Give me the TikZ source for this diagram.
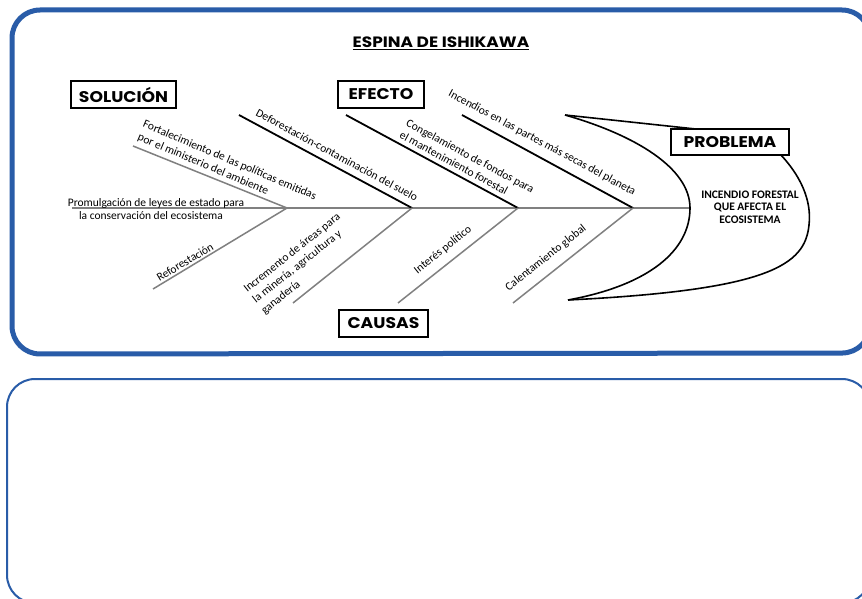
\documentclass[tikz,border=0pt]{standalone}
\usepackage{fontspec}
\setmainfont{Carlito}
\newfontfamily\popfont{Poppins}
\definecolor{frameblue}{RGB}{41,92,168}
\definecolor{bonegray}{RGB}{128,128,128}
\newcommand{\mybx}[1]{{\popfont\bfseries\fontsize{15.5}{17}\selectfont\scalebox{1.11}[1]{#1}}}
\begin{document}
\begin{tikzpicture}[x=1pt,y=-1pt,
  topframe/.style={draw=frameblue, line width=5pt, rounded corners=28pt},
  lowframe/.style={draw=frameblue, line width=2pt, rounded corners=28pt},
  hbox/.style={draw=black, line width=1.6pt, fill=white, inner sep=0pt,
    minimum height=27pt},
  blackbone/.style={draw=black, line width=1.8pt},
  graybone/.style={draw=bonegray, line width=1.5pt},
  headline/.style={draw=black, line width=1.6pt},
  lbl/.style={inner sep=0pt, align=left, font=\fontsize{11.5}{14}\selectfont},
  headtext/.style={inner sep=0pt, align=center, font=\bfseries\fontsize{11.5}{12.5}\selectfont},
  titletext/.style={inner sep=0pt, font=\popfont\bfseries\fontsize{15}{17}\selectfont}
]
\clip (0,0) rectangle (862,599);
\fill[white] (0,0) rectangle (862,599);
% frames
\draw[topframe] (12,10) -- (870,10) -- (870,353) -- (12,354) -- cycle;
\draw[lowframe] (7,379) -- (870,379) -- (870,603) -- (7,603) -- cycle;
% title
\node[titletext] (title) at (441,42) {\scalebox{1.13}[1]{ESPINA DE ISHIKAWA}};
\draw[line width=1pt] ([yshift=-2.5pt]title.base west) -- ([yshift=-2.5pt]title.base east);
% coordinates
\coordinate (S0) at (72,208);
\coordinate (J1) at (287,208);
\coordinate (J2) at (412,208);
\coordinate (J3) at (518,208);
\coordinate (J4) at (633,208);
\coordinate (HV) at (690,208);
\coordinate (U1) at (133,146);
\coordinate (U2) at (239,115);
\coordinate (U3) at (346,115);
\coordinate (U4) at (462,115);
\coordinate (D1) at (153,289);
\coordinate (D2) at (293,303);
\coordinate (D3) at (398,303);
\coordinate (D4) at (513,303);
\coordinate (HT) at (565,115);
\coordinate (HB) at (568,300);
\coordinate (PT) at (705,130);
\coordinate (PR) at (780,154);
% spine and bones
\draw[graybone] (S0) -- (HV);
\draw[graybone] (U1) -- (J1);
\draw[blackbone] (U2) -- (J2);
\draw[blackbone] (U3) -- (J3);
\draw[blackbone] (U4) -- (J4);
\draw[graybone] (D1) -- (J1);
\draw[graybone] (D2) -- (J2);
\draw[graybone] (D3) -- (J3);
\draw[graybone] (D4) -- (J4);
% head
\draw[headline] (HT) .. controls (635,135) and (690,168) .. (HV) .. controls (690,250) and (650,285) .. (HB);
\draw[headline] (HT) -- (PT);
\draw[headline] (PR) .. controls (800,175) and (812,200) .. (809,225) .. controls (805,265) and (770,290) .. (HB);
% boxes
\node[hbox, minimum width=105pt] (sol) at (123.5,94.5) {\mybx{SOLUCIÓN}};
\node[hbox, minimum width=86pt] (efe) at (381,94.5) {\mybx{EFECTO}};
\node[hbox, minimum width=118pt, minimum height=26pt] (prob) at (730,142) {\mybx{PROBLEMA}};
\node[hbox, minimum width=89pt] (cau) at (383.5,323.5) {\mybx{CAUSAS}};
\node[headtext] (inc) at (750,207) {INCENDIO FORESTAL\\QUE AFECTA EL\\ECOSISTEMA};
% labels
\node[lbl, anchor=base] (p1) at (156,206) {Promulgación de leyes de estado para};
\node[lbl, anchor=base] (p2) at (151,219) {la conservación del ecosistema};
\node[lbl, rotate=-23] (l1) at (227,167) {Fortalecimiento de las políticas emitidas\\por el ministerio del ambiente};
\node[lbl, rotate=-28.3] (l2) at (337,155) {Deforestación-contaminación del suelo};
\node[lbl, rotate=-28.3] (l3) at (467,162) {Congelamiento de fondos para\\el mantenimiento forestal};
\node[lbl, rotate=-28.3] (l4) at (542,143) {Incendios en las partes más secas del planeta};
\node[lbl, rotate=31] (l5) at (185,262) {Reforestación};
\node[lbl, rotate=38.5] (l6) at (301,264) {Incremento de áreas para\\la minería, agricultura y\\ganadería};
\node[lbl, rotate=38.4] (l7) at (443,250) {Interés político};
\node[lbl, rotate=38.4] (l8) at (546,258) {Calentamiento global};
\end{tikzpicture}
\end{document}
